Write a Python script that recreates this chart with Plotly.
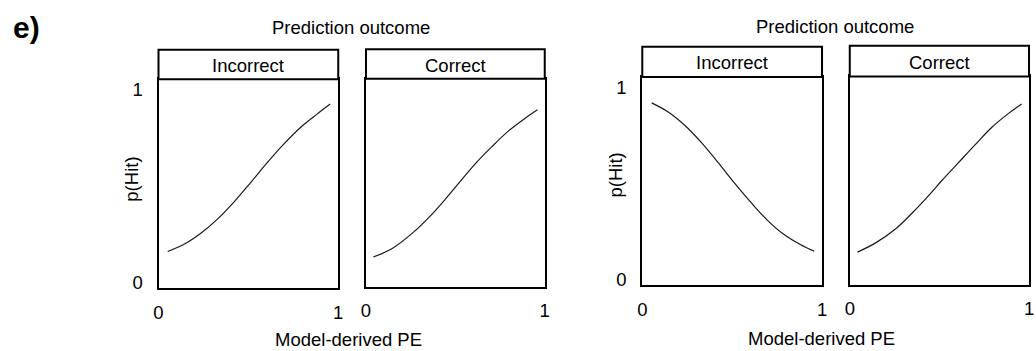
import plotly.graph_objects as go

# ---- data ----
# left group
pe_left_incorrect = [0.051, 0.147, 0.239, 0.331, 0.422, 0.514, 0.606, 0.698, 0.790, 0.882, 0.955]
phit_left_incorrect = [0.163, 0.203, 0.260, 0.333, 0.421, 0.521, 0.624, 0.720, 0.805, 0.874, 0.926]
pe_left_correct = [0.042, 0.147, 0.258, 0.351, 0.444, 0.518, 0.611, 0.703, 0.796, 0.889, 0.959]
phit_left_correct = [0.128, 0.172, 0.250, 0.332, 0.428, 0.510, 0.612, 0.700, 0.782, 0.848, 0.893]
# right group
pe_right_incorrect = [0.052, 0.144, 0.236, 0.328, 0.420, 0.511, 0.603, 0.695, 0.787, 0.879, 0.956]
phit_right_incorrect = [0.919, 0.872, 0.803, 0.714, 0.612, 0.505, 0.404, 0.311, 0.237, 0.184, 0.150]
pe_right_correct = [0.043, 0.144, 0.255, 0.348, 0.441, 0.515, 0.608, 0.700, 0.793, 0.886, 0.959]
phit_right_correct = [0.142, 0.190, 0.262, 0.345, 0.437, 0.515, 0.608, 0.700, 0.790, 0.862, 0.911]

facet_labels = ["Incorrect", "Correct", "Incorrect", "Correct"]
x_ticks = [0, 1]
x_ticklabels = ["0", "1"]
y_ticks = [0, 1]
y_ticklabels = ["0", "1"]
group_title = "Prediction outcome"
x_title = "Model-derived PE"
y_title = "p(Hit)"
panel_tag = "e)"

series = [
    (pe_left_incorrect, phit_left_incorrect),
    (pe_left_correct, phit_left_correct),
    (pe_right_incorrect, phit_right_incorrect),
    (pe_right_correct, phit_right_correct),
]

# ---- layout geometry (pixels) ----
W, H = 1036, 351
FONT = "Liberation Sans, Arial, Helvetica, sans-serif"
FS = 18.5

panels = [
    # x0, x1, strip_top, strip_bottom, plot_bottom
    (155, 336.5, 50.5, 80.5, 292.5),
    (364.5, 545, 50, 80, 291),
    (643.5, 825, 47.5, 78, 289.5),
    (853, 1034, 46.5, 77.5, 289),
]

def fx(p):
    return p / W

def fy(p):
    return 1 - p / H

fig = go.Figure()
layout = dict(
    width=W, height=H,
    margin=dict(l=0, r=0, t=0, b=0),
    paper_bgcolor="white", plot_bgcolor="white",
    showlegend=False,
    font=dict(family=FONT, size=FS, color="black"),
)
shapes = []
annotations = []

for i, ((x0, x1, st, sb, pb), (xs, ys)) in enumerate(zip(panels, series)):
    n = i + 1
    xa = "x" if n == 1 else f"x{n}"
    ya = "y" if n == 1 else f"y{n}"
    fig.add_trace(go.Scatter(
        x=xs, y=ys, mode="lines", xaxis=xa, yaxis=ya,
        line=dict(color="#1a1a1a", width=1.2, shape="spline", smoothing=1.0),
        hoverinfo="skip",
    ))
    show_y = (n in (1, 3))
    layout[f"xaxis{n}"] = dict(
        domain=[fx(x0), fx(x1)], range=[0, 1], anchor=ya,
        showgrid=False, zeroline=False, showline=True, mirror=True,
        linecolor="black", linewidth=2, ticks="",
        tickvals=x_ticks, ticktext=x_ticklabels, ticklabelstandoff=6,
        tickfont=dict(family=FONT, size=FS, color="black"),
    )
    layout[f"yaxis{n}"] = dict(
        domain=[fy(pb), fy(sb)], range=[-0.028, 1.054], anchor=xa,
        showgrid=False, zeroline=False, showline=True, mirror=True,
        linecolor="black", linewidth=2, ticks="",
        tickvals=y_ticks, ticktext=y_ticklabels,
        showticklabels=show_y, ticklabelstandoff=10,
        tickfont=dict(family=FONT, size=FS, color="black"),
    )
    # facet strip
    shapes.append(dict(
        type="rect", xref="paper", yref="paper",
        x0=fx(x0), x1=fx(x1), y0=fy(sb), y1=fy(st),
        line=dict(color="black", width=2), fillcolor="white",
    ))
    annotations.append(dict(
        text=facet_labels[i], xref="paper", yref="paper",
        x=fx((x0 + x1) / 2), y=fy((st + sb) / 2 + 1),
        xanchor="center", yanchor="middle", showarrow=False,
        font=dict(family=FONT, size=FS, color="black"),
    ))

# group titles and axis titles
for cx, cy in [(349, 27.5), (838.5, 26.5)]:
    annotations.append(dict(
        text=group_title, xref="paper", yref="paper", x=fx(cx), y=fy(cy),
        xanchor="center", yanchor="middle", showarrow=False,
        font=dict(family=FONT, size=FS, color="black"),
    ))
for cx, cy in [(347, 344), (824, 343)]:
    annotations.append(dict(
        text=x_title, xref="paper", yref="paper", x=fx(cx), y=fy(cy),
        xanchor="center", yanchor="middle", showarrow=False,
        font=dict(family=FONT, size=FS, color="black"),
    ))
for cx, cy in [(128, 181.5), (616, 178)]:
    annotations.append(dict(
        text=y_title, xref="paper", yref="paper", x=fx(cx), y=fy(cy),
        xanchor="center", yanchor="middle", showarrow=False, textangle=-90,
        font=dict(family=FONT, size=FS, color="black"),
    ))
annotations.append(dict(
    text=f"<b>{panel_tag}</b>", xref="paper", yref="paper", x=fx(6), y=fy(28),
    xanchor="left", yanchor="middle", showarrow=False,
    font=dict(family=FONT, size=30, color="black"),
))

layout["shapes"] = shapes
layout["annotations"] = annotations
fig.update_layout(**layout)
fig.write_html(
    "out.html",
    config={"displayModeBar": False},
    post_script="document.body.style.margin='0px';document.body.style.overflow='hidden';",
)
